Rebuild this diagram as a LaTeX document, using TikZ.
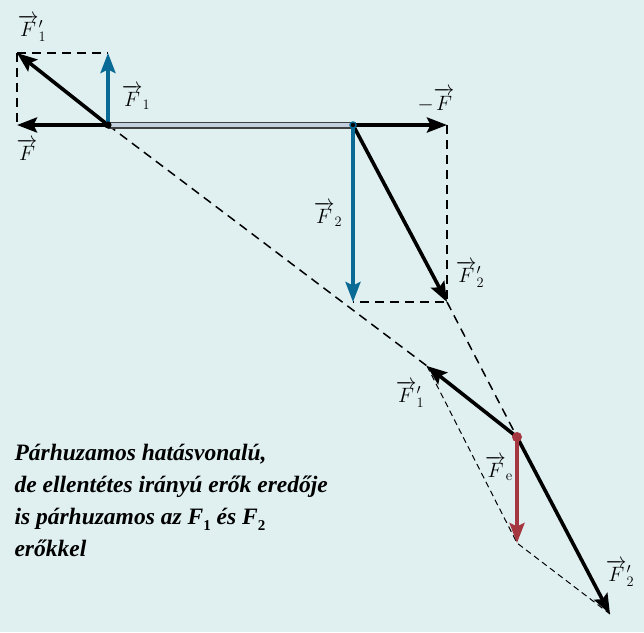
\documentclass[tikz,border=0pt]{standalone}
\usepackage{amsmath}
\usepackage{fontspec}
\newfontfamily\capfont{Liberation Serif}
\usetikzlibrary{arrows.meta}
\definecolor{bgcyan}{RGB}{224,240,240}
\definecolor{forceblue}{RGB}{10,106,150}
\definecolor{forcered}{RGB}{165,55,65}
\definecolor{rodfill}{RGB}{196,208,224}
\newcommand{\lowsub}[1]{\raisebox{-0.22em}{\upshape\fontsize{15}{15}\selectfont #1}}

\begin{document}
\begin{tikzpicture}[x=1pt, y=-1pt, font=\fontsize{21}{24}\selectfont,
  vec/.style={line width=3.6pt, -{Stealth[length=20pt,width=15pt,inset=3.5pt]}},
  guide/.style={line width=1.5pt, dash pattern=on 9pt off 6pt},
  thinguide/.style={line width=1pt, dash pattern=on 6pt off 4pt}]
\fill[bgcyan] (0,0) rectangle (644,632);
\useasboundingbox (0,0) rectangle (644,632);

% points of the rod and where the lines of action meet
\coordinate (A) at (108,125);
\coordinate (B) at (353,125);
\coordinate (C) at (517,437);
% tips of the vectors
\coordinate (Ftip) at (17,125);
\coordinate (F1tip) at (108,53);
\coordinate (F1ptip) at (17,53);
\coordinate (mFtip) at (447,125);
\coordinate (F2tip) at (353,302);
\coordinate (F2ptip) at (447,302);
\coordinate (F1qtip) at (427,366);
\coordinate (F2qtip) at (610,614);
\coordinate (Fetip) at (517,543);

% dashed construction
\draw[guide] (F1ptip) -- (F1tip);
\draw[guide] (F1ptip) -- (Ftip);
\draw[guide] (mFtip) -- (F2ptip) -- (F2tip);
\draw[guide] (A) -- (F1qtip);
\draw[guide] (F2ptip) -- (C);
\draw[thinguide] (F1qtip) -- (Fetip) -- (F2qtip);

% rod
\draw[line width=7pt, black!75] (A) -- (B);
\draw[line width=4.4pt, rodfill] (A) -- (B);

% forces at the ends of the rod
\draw[vec] (A) -- (Ftip);
\draw[vec] (A) -- (F1ptip);
\draw[vec, forceblue] (A) -- (F1tip);
\draw[vec] (B) -- (mFtip);
\draw[vec] (B) -- (F2ptip);
\draw[vec, forceblue] (B) -- (F2tip);

% moved forces and the resultant
\draw[vec] (C) -- (F1qtip);
\draw[vec] (C) -- (F2qtip);
\draw[vec, forcered] (C) -- (Fetip);

\fill[black] (A) circle (3.6pt);
\fill[forceblue] (B) circle (3.8pt);
\fill[black] (B) circle (2.2pt);
\fill[forcered] (C) circle (5pt);

% labels
\node (lF1p) at (32,28) {$\overrightarrow{F}{}'_{1}$};
\node (lF1) at (136,97) {$\overrightarrow{F}_{1}$};
\node (lF) at (27,150) {$\overrightarrow{F}$};
\node (lmF) at (436,100) {$-\overrightarrow{F}$};
\node (lF2) at (328,214) {$\overrightarrow{F}_{2}$};
\node (lF2p) at (470,274) {$\overrightarrow{F}{}'_{2}$};
\node (lF1q) at (410,394) {$\overrightarrow{F}{}'_{1}$};
\node (lFe) at (499,468) {$\overrightarrow{F}_{\mathrm{e}}$};
\node (lF2q) at (620,573) {$\overrightarrow{F}{}'_{2}$};

\node[anchor=north west, align=left, font=\capfont\bfseries\itshape\fontsize{23.5}{32}\selectfont] (caption) at (11,441)
  {Párhuzamos hatásvonalú,\\ de ellentétes irányú erők eredője\\ is párhuzamos az F\lowsub{1} és F\lowsub{2}\\ erőkkel};
\end{tikzpicture}
\end{document}
